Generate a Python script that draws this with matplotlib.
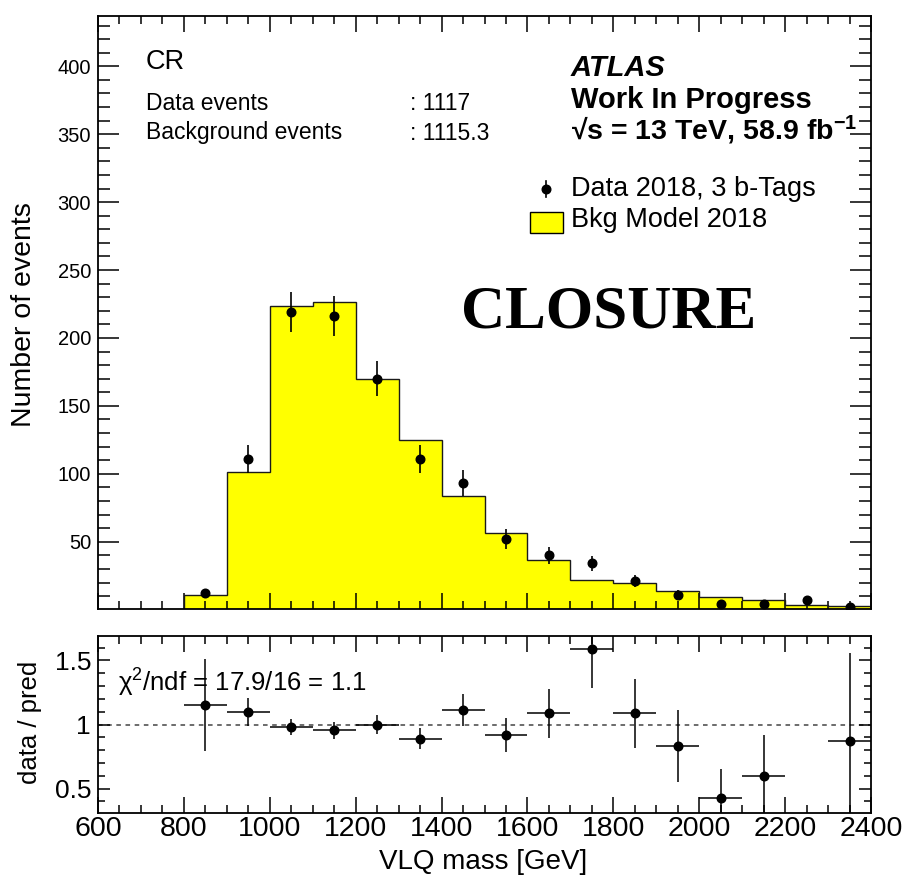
import numpy as np
import matplotlib
matplotlib.use("Agg")
import matplotlib.pyplot as plt
from matplotlib.ticker import MultipleLocator, FixedLocator, NullFormatter
from matplotlib.patches import Rectangle
from matplotlib.lines import Line2D

plt.rcParams['font.family'] = ['Liberation Sans', 'DejaVu Sans']
plt.rcParams['mathtext.fontset'] = 'custom'
plt.rcParams['mathtext.rm'] = 'Liberation Sans'
plt.rcParams['mathtext.it'] = 'Liberation Sans:italic'
plt.rcParams['mathtext.bf'] = 'Liberation Sans:bold'

# --- data ---
bin_edges = [600, 700, 800, 900, 1000, 1100, 1200, 1300, 1400, 1500,
             1600, 1700, 1800, 1900, 2000, 2100, 2200, 2300, 2400]
bkg_model = [0, 0, 10.5, 101, 223.5, 226.5, 170, 124.6, 83.5, 56.7,
             36.8, 21.5, 19.5, 13.4, 9.4, 6.8, 3.4, 2.4]

data_x = [850, 950, 1050, 1150, 1250, 1350, 1450, 1550,
          1650, 1750, 1850, 1950, 2050, 2150, 2250, 2350]
data_counts = [12, 111, 219, 216, 170, 111, 93, 52, 40, 34, 21, 11, 4, 4, 7, 2]
data_err = [3.5, 10.5, 14.8, 14.7, 13.0, 10.5, 9.6, 7.2,
            6.3, 5.8, 4.6, 3.3, 2.0, 2.0, 2.6, 1.4]

ratio = [1.15, 1.10, 0.98, 0.955, 1.00, 0.89, 1.113, 0.918,
         1.088, 1.585, 1.088, 0.83, 0.43, 0.598, 2.06, 0.874]
ratio_err = [0.36, 0.11, 0.065, 0.065, 0.075, 0.08, 0.125, 0.13,
             0.19, 0.30, 0.27, 0.28, 0.22, 0.32, 0.76, 0.68]

W, H = 908, 881
fig = plt.figure(figsize=(W / 100, H / 100), dpi=100)


def fx(px):
    return px / W


def fy(py):
    return 1 - py / H


L, R = 98, 871
ax = fig.add_axes([fx(L), fy(609), fx(R) - fx(L), fy(16) - fy(609)])
rax = fig.add_axes([fx(L), fy(813), fx(R) - fx(L), fy(636) - fy(813)])

# upper panel
ax.stairs(bkg_model, bin_edges, fill=True, facecolor='#ffff00', edgecolor='none', zorder=1)
ax.stairs(bkg_model, bin_edges, color='#1a1a1a', lw=1.0, zorder=2)
ax.errorbar(data_x, data_counts, yerr=data_err, fmt='o', color='black',
            ms=6.2, elinewidth=1.2, capsize=0, zorder=3)

ax.set_xlim(600, 2400)
ax.set_ylim(0.5, 437)
ax.xaxis.set_major_locator(MultipleLocator(200))
ax.xaxis.set_minor_locator(MultipleLocator(50))
ax.xaxis.set_major_formatter(NullFormatter())
ax.yaxis.set_major_locator(FixedLocator([50, 100, 150, 200, 250, 300, 350, 400]))
ax.yaxis.set_minor_locator(MultipleLocator(10))
ax.tick_params(axis='both', which='both', direction='in', top=True, right=True, width=1.1)
ax.tick_params(axis='x', which='major', length=11.5)
ax.tick_params(axis='x', which='minor', length=5.8)
ax.tick_params(axis='y', which='major', length=15, labelsize=14.5, pad=5)
ax.tick_params(axis='y', which='minor', length=8.5)

# lower panel (points outside the range are not drawn, as in the original)
ratio = np.array(ratio)
ratio_err = np.array(ratio_err)
rx = np.array(data_x)
rlo, rhi = 0.31, 1.69
inside = (ratio > rlo) & (ratio < rhi)
rax.axhline(1.0, color='#444444', lw=1.1, ls=(0, (3, 3)), zorder=1)
rax.errorbar(rx[inside], ratio[inside], yerr=ratio_err[inside], xerr=50,
             fmt='o', color='black', ms=6.2, elinewidth=1.1, capsize=0, zorder=3)
rax.set_xlim(600, 2400)
rax.set_ylim(rlo, rhi)
rax.xaxis.set_major_locator(MultipleLocator(200))
rax.xaxis.set_minor_locator(MultipleLocator(50))
rax.yaxis.set_major_locator(FixedLocator([0.5, 1.0, 1.5]))
rax.yaxis.set_minor_locator(MultipleLocator(0.1))
rax.set_yticklabels(['0.5', '1', '1.5'])
rax.tick_params(axis='both', which='both', direction='in', top=True, right=True, width=1.1)
rax.tick_params(axis='x', which='major', length=11.5, labelsize=20.5, pad=2.5)
rax.tick_params(axis='x', which='minor', length=6)
rax.tick_params(axis='y', which='major', length=8.5, labelsize=19, pad=5)
rax.tick_params(axis='y', which='minor', length=5)

for a in (ax, rax):
    for s in a.spines.values():
        s.set_linewidth(1.3)

# axis titles
fig.text(fx(24), fy(315), 'Number of events', rotation=90, ha='center', va='center', fontsize=20.5)
fig.text(fx(30), fy(722), 'data / pred', rotation=90, ha='center', va='center', fontsize=18.5)
fig.text(fx(483), fy(862), 'VLQ mass [GeV]', ha='center', va='center', fontsize=20)

# labels inside the upper panel
fig.text(fx(146), fy(62), 'CR', ha='left', va='center', fontsize=19.5)
fig.text(fx(146), fy(103), 'Data events', ha='left', va='center', fontsize=16.5)
fig.text(fx(410), fy(103), ': 1117', ha='left', va='center', fontsize=16.5)
fig.text(fx(146), fy(133), 'Background events', ha='left', va='center', fontsize=16.5)
fig.text(fx(410), fy(133), ': 1115.3', ha='left', va='center', fontsize=16.5)

fig.text(fx(571), fy(68), 'ATLAS', ha='left', va='center', fontsize=21,
         fontweight='bold', fontstyle='italic')
fig.text(fx(571), fy(100), 'Work In Progress', ha='left', va='center', fontsize=21,
         fontweight='bold')
fig.text(fx(571), fy(130), '\u221as = 13 TeV, 58.9 fb$\\mathbf{^{-1}}$', ha='left', va='center',
         fontsize=20.5, fontweight='bold')

# legend
fig.add_artist(Line2D([fx(546), fx(546)], [fy(181), fy(197)], color='black', lw=1.2))
fig.add_artist(Line2D([fx(546)], [fy(189)], marker='o', ms=6.2, color='black', lw=0))
fig.text(fx(571), fy(189), 'Data 2018, 3 b-Tags', ha='left', va='center', fontsize=19.5)
fig.add_artist(Rectangle((fx(530), fy(233)), fx(563) - fx(530), fy(212) - fy(233),
                         transform=fig.transFigure, facecolor='#ffff00',
                         edgecolor='black', lw=1.0))
fig.text(fx(571), fy(220), 'Bkg Model 2018', ha='left', va='center', fontsize=19.5)

fig.text(fx(461), fy(327), 'CLOSURE', ha='left', va='baseline', fontsize=44,
         fontweight='bold', family=['Liberation Serif', 'DejaVu Serif'])

# chi2 in ratio panel
fig.text(fx(118), fy(683), '\u03c7$^{2}$/ndf = 17.9/16 = 1.1', ha='left', va='center', fontsize=18.5)

fig.savefig('out.png', dpi=100)
